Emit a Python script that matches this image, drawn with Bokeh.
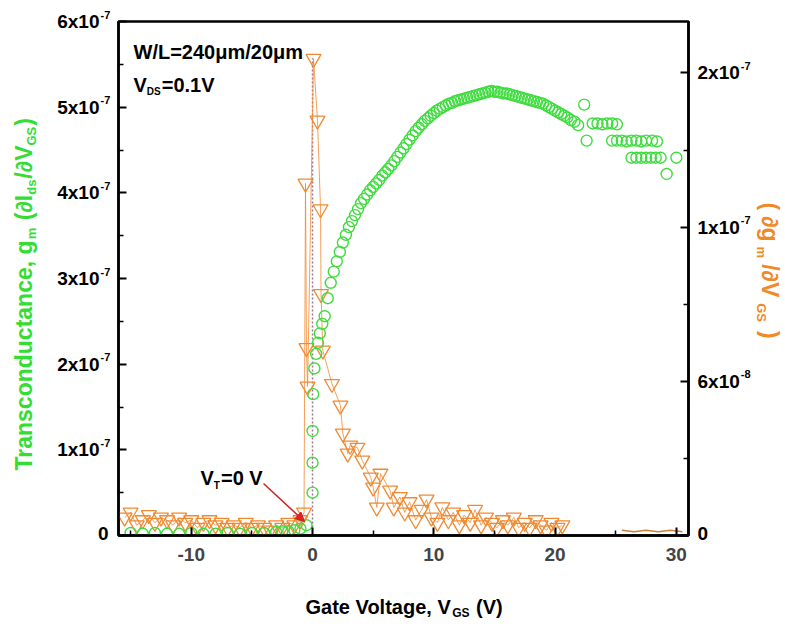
import math
from bokeh.plotting import figure
from bokeh.layouts import row, column
from bokeh.models import (Range1d, LinearAxis, FixedTicker, Label, Arrow,
                          NormalHead, CustomJSTickFormatter)
from bokeh.core.properties import value
from bokeh.embed import file_html
from bokeh.resources import INLINE

# ---------------- data ----------------
# transconductance g_m (units of 1e-7 S) vs gate voltage
gm_vgs = [-15.0, -14.0, -13.0, -12.0, -11.0, -10.0, -9.0, -8.0, -7.0, -6.0, -5.0, -4.0,
          -3.0, -2.5, -2.0, -1.5, -1.0, -0.5,
          0.0, 0.0, 0.0, 0.05, 0.15, 0.3, 0.45, 0.6, 0.8, 1.0, 1.25, 1.5, 1.75, 2.0,
          2.25, 2.5, 2.75, 3.0, 3.25, 3.5, 3.75, 4.0, 4.25, 4.5, 4.75, 5.0, 5.25, 5.5,
          5.75, 6.0, 6.25, 6.5, 6.75, 7.0, 7.25, 7.5, 7.75, 8.0, 8.25, 8.5, 8.75, 9.0,
          9.25, 9.5, 9.75, 10.0, 10.25, 10.5, 10.75, 11.0, 11.25, 11.5, 11.75, 12.0,
          12.25, 12.5, 12.75, 13.0, 13.25, 13.5, 13.75, 14.0, 14.25, 14.5, 14.75, 15.0,
          15.25, 15.5, 15.75, 16.0, 16.25, 16.5, 16.75, 17.0, 17.25, 17.5, 17.75, 18.0,
          18.25, 18.5, 18.75, 19.0, 19.25, 19.5, 19.75, 20.0, 20.25, 20.5, 20.75, 21.0,
          21.3, 21.6, 21.9,
          22.4, 22.6, 23.1, 23.5, 23.9, 24.3, 24.7, 25.1, 24.7, 25.1, 25.5, 25.9, 26.3,
          26.7, 27.1, 27.5, 28.0, 28.4, 26.3, 26.7, 27.1, 27.5, 27.9, 28.3, 28.7, 29.2,
          30.0]
gm_e7 = [0.03, 0.02, 0.03, 0.02, 0.02, 0.03, 0.02, 0.02, 0.03, 0.02, 0.03, 0.03,
         0.04, 0.05, 0.05, 0.06, 0.08, 0.12,
         0.5, 0.85, 1.22, 1.65, 1.95, 2.12, 2.25, 2.36, 2.47, 2.56, 2.77, 2.95, 3.08, 3.2,
         3.31, 3.42, 3.51, 3.6, 3.67, 3.74, 3.81, 3.88, 3.93, 3.98, 4.03, 4.07, 4.11, 4.15,
         4.2, 4.24, 4.28, 4.32, 4.37, 4.42, 4.47, 4.52, 4.57, 4.62, 4.67, 4.72, 4.76, 4.8,
         4.84, 4.87, 4.9, 4.93, 4.96, 4.98, 5.0, 5.02, 5.04, 5.05, 5.07, 5.08,
         5.09, 5.10, 5.11, 5.12, 5.13, 5.14, 5.15, 5.16, 5.17, 5.18, 5.19, 5.18,
         5.18, 5.17, 5.16, 5.16, 5.15, 5.14, 5.13, 5.12, 5.11, 5.10, 5.09, 5.08,
         5.07, 5.06, 5.05, 5.04, 5.02, 5.00, 4.98, 4.96, 4.94, 4.92, 4.90, 4.88,
         4.85, 4.83, 4.79,
         5.03, 4.61, 4.81, 4.81, 4.80, 4.81, 4.81, 4.80, 4.61, 4.61, 4.61, 4.60, 4.61,
         4.61, 4.60, 4.61, 4.61, 4.60, 4.41, 4.41, 4.41, 4.41, 4.41, 4.41, 4.41, 4.22,
         4.41]

# derivative d g_m / d V_GS (units of 1e-8) vs gate voltage
dgm_vgs = [-15.5, -15.0, -14.5, -14.0, -13.5, -13.0, -12.5, -12.0, -11.5, -11.0, -10.5,
           -10.0, -9.5, -9.0, -8.5, -8.0, -7.5, -7.0, -6.5, -6.0, -5.5, -5.0, -4.5, -4.0,
           -3.5, -3.0, -2.5, -2.0, -1.5, -1.0, -0.7, -0.58, -0.5, -0.41, 0.08, 0.41,
           0.66, 0.7, 0.85, 1.6, 2.3, 2.5, 2.9, 3.1, 3.7, 4.1, 4.8, 5.0, 5.3, 5.6, 6.4,
           6.7, 7.2, 7.6, 8.0, 8.5, 9.0, 9.4, 9.8, 10.3, 10.7, 11.2, 11.6, 12.1, 12.5,
           13.0, 13.4, 13.9, 14.3, 14.8, 15.2, 15.7, 16.1, 16.6, 17.0, 17.5, 17.9, 18.4,
           18.8, 19.3, 19.7, 20.2, 20.6]
dgm_e8 = [0.7, 0.9, 0.4, 0.6, 0.8, 0.5, 0.7, 0.6, 0.4, 0.7, 0.5,
          0.6, 0.3, 0.5, 0.6, 0.4, 0.5, 0.3, 0.4, 0.3, 0.5, 0.3, 0.4, 0.3,
          0.2, 0.4, 0.3, 0.5, 0.4, 0.6, 0.9, 13.7, 7.3, 5.8, 18.55, 16.15,
          12.7, 9.4, 7.2, 5.9, 5.06, 3.97, 3.19, 3.5, 3.42, 2.92, 2.26, 1.87, 1.09, 2.41, 1.75,
          1.09, 1.5, 0.9, 1.3, 0.6, 1.0, 1.4, 0.7, 0.5, 1.1, 0.6, 0.9, 0.4, 0.8,
          0.5, 1.0, 0.4, 0.7, 0.5, 0.3, 0.6, 0.4, 0.7, 0.3, 0.5, 0.3, 0.6,
          0.4, 0.2, 0.5, 0.3, 0.4]
tail_vgs = [25.5, 26.5, 27.5, 28.5, 29.5, 30.5]
tail_e8 = [0.2, 0.15, 0.2, 0.15, 0.2, 0.15]

# threshold marker line at V_T = 0
vt_vgs = [0.0, 0.0]
vt_e7 = [0.0, 5.57]

x_ticks = [-10, 0, 10, 20, 30]
x_minor = [-15, -5, 5, 15, 25]
left_ticks_e7 = [0, 1, 2, 3, 4, 5, 6]
left_minor_e7 = [0.5, 1.5, 2.5, 3.5, 4.5, 5.5]
left_labels = ["0", "1x10", "2x10", "3x10", "4x10", "5x10", "6x10"]
left_sup = ["", "-7", "-7", "-7", "-7", "-7", "-7"]
right_ticks_e8 = [0, 6, 12, 18]
right_minor_e8 = [3, 9, 15]
right_labels = ["0", "6x10", "1x10", "2x10"]
right_sup = ["", "-8", "-7", "-7"]

gm = [v * 1e-7 for v in gm_e7]
dgm = [v * 1e-8 for v in dgm_e8]
tail = [v * 1e-8 for v in tail_e8]
vt_y = [v * 1e-7 for v in vt_e7]

# ---------------- layout ----------------
W, H = 785, 627
FL, FR, FT, FB = 118, 688, 21, 535          # plot frame in page pixels
LW, RW, BH = 112, 91, 42                    # side panels (left, right, bottom)
MW, MH = W - LW - RW, H - BH                # main figure size
X0, X1 = -16.0, 31.0
Y1 = 6e-7
Y2 = 2e-7
FONT = "Liberation Sans"

GREEN = "#3fdc3f"
ORANGE = "#f08a32"
TITLE_GREEN = "#33dd33"
TITLE_ORANGE = "#f08a28"

p = figure(width=MW, height=MH, x_range=Range1d(X0, X1), y_range=Range1d(0, Y1),
           output_backend="svg", toolbar_location=None, frame_align=False,
           min_border_left=FL - LW, min_border_right=(LW + MW) - FR,
           min_border_top=FT, min_border_bottom=MH - FB)
p.extra_y_ranges = {"d": Range1d(0, Y2)}
p.grid.visible = False
p.background_fill_color = "white"
p.border_fill_color = "white"
p.outline_line_color = "black"
p.outline_line_width = 2.5

xa = p.xaxis[0]
xa.ticker = FixedTicker(ticks=x_ticks, minor_ticks=x_minor)
xa.major_label_overrides = {t: str(t) for t in x_ticks}
xa.major_label_text_font = FONT
xa.major_label_text_font_style = "bold"
xa.major_label_text_font_size = "19px"
xa.major_label_standoff = 12

ya = p.yaxis[0]
ya.ticker = FixedTicker(ticks=[v * 1e-7 for v in left_ticks_e7],
                        minor_ticks=[v * 1e-7 for v in left_minor_e7])
ya.formatter = CustomJSTickFormatter(code="return ''")
ya.major_label_standoff = 0

ra = LinearAxis(y_range_name="d",
                ticker=FixedTicker(ticks=[v * 1e-8 for v in right_ticks_e8],
                                   minor_ticks=[v * 1e-8 for v in right_minor_e8]),
                formatter=CustomJSTickFormatter(code="return ''"),
                major_label_standoff=0)
p.add_layout(ra, "right")

for ax in (xa, ya, ra):
    ax.axis_line_width = 2.5
    ax.axis_line_color = "black"
    ax.major_tick_line_width = 2
    ax.minor_tick_line_width = 1.5
    ax.major_tick_in = 8
    ax.major_tick_out = 0
    ax.minor_tick_in = 5
    ax.minor_tick_out = 0

# ---------------- glyphs ----------------
p.line(vt_vgs, vt_y, line_color="#a07890", line_width=1.5, line_dash="2 2")
p.line(dgm_vgs, dgm, y_range_name="d", line_color=ORANGE, line_width=1, line_alpha=0.8)
p.line(tail_vgs, tail, y_range_name="d", line_color="#c8803a", line_width=1.5)
p.scatter(dgm_vgs, dgm, y_range_name="d", marker="inverted_triangle", size=15,
          line_color=ORANGE, fill_color=None, line_width=1.3)
p.scatter(gm_vgs, gm, marker="circle", size=11, line_color=GREEN, fill_color=None,
          line_width=1.4)


# ---------------- text helpers ----------------
CW = {' ': 278, '(': 333, ')': 333, ',': 278, '.': 278, '/': 278, '=': 584, 'x': 556,
      '-': 333, 'G': 778, 'I': 278, 'L': 611, 'S': 667, 'T': 611, 'V': 667, 'W': 944,
      'D': 722, 'a': 556, 'c': 556, 'd': 611, 'e': 556, 'g': 611, 'l': 278, 'm': 889,
      'n': 611, 'o': 611, 'r': 389, 's': 556, 't': 333, 'u': 611, 'μ': 611, '∂': 494}


def tw(s, size):
    return sum(CW.get(c, 556) for c in s) * size / 1000.0


def X(sx):
    return X0 + (sx - FL) * (X1 - X0) / (FR - FL)


def Y(sy):
    return Y1 * (FB - sy) / (FB - FT)


def panel(w, h):
    f = figure(width=w, height=h, x_range=Range1d(0, w), y_range=Range1d(0, h),
               output_backend="svg", toolbar_location=None, min_border=0,
               frame_align=False, x_axis_type=None, y_axis_type=None)
    f.outline_line_color = None
    f.background_fill_color = "white"
    f.border_fill_color = "white"
    return f


class Canvas:
    """places text on a figure whose frame covers it, using page pixel positions"""

    def __init__(self, fig, ox, oy, h, inside=False):
        self.fig, self.ox, self.oy, self.h, self.inside = fig, ox, oy, h, inside

    def put(self, sx, sy, text, size, color="black", align="left", angle=0.0):
        if self.inside:
            self.fig.add_layout(Label(x=X(sx), y=Y(sy), text=text, text_font=FONT,
                                      text_font_style="bold", text_font_size=f"{size}px",
                                      text_color=color, text_align=align,
                                      text_baseline="middle", angle=angle))
        else:
            self.fig.text(x=[sx - self.ox], y=[self.h - (sy - self.oy)], text=[text],
                          angle=angle, text_font=value(FONT), text_font_style="bold",
                          text_font_size=value(f"{size}px"), text_color=color,
                          text_align=align, text_baseline="middle")

    def rich(self, sx, sy, pieces, size, sub_size, sub_off, color="black", angle=0.0):
        """pieces: ('t', text) normal, ('s', text) subscript, ('g', px) gap"""
        dx, dy = math.cos(angle), -math.sin(angle)
        nx, ny = -dy, dx
        cx, cy = sx, sy
        for kind, item in pieces:
            if kind == "g":
                w = item
            else:
                fs = sub_size if kind == "s" else size
                lead = len(item) - len(item.lstrip(" "))
                txt = item.strip(" ")
                lw = tw(" " * lead, fs)
                off = sub_off if kind == "s" else 0
                self.put(cx + dx * lw + nx * off, cy + dy * lw + ny * off, txt, fs,
                         color, "left", angle)
                w = tw(item, fs) + (1 if kind == "s" else 0)
            cx += dx * w
            cy += dy * w


left = panel(LW, MH)
right = panel(RW, MH)
bottom = panel(W, BH)
cl = Canvas(left, 0, 0, MH)
cr = Canvas(right, LW + MW, 0, MH)
cb = Canvas(bottom, 0, MH, BH)
cm = Canvas(p, LW, 0, MH, inside=True)

# tick labels with superscript exponents
for v, t, s in zip(left_ticks_e7, left_labels, left_sup):
    sy = FB - v * (FB - FT) / 6.0
    if s:
        cl.put(99, sy, t, 19, align="right")
        cl.put(100, sy - 7, s, 11)
    else:
        cl.put(108, sy - 2, t, 19, align="right")

for v, t, s in zip(right_ticks_e8, right_labels, right_sup):
    sy = FB - v * (FB - FT) / 20.0
    if s:
        cr.put(697, sy, t, 19)
        cr.put(697 + tw(t, 19) + 1, sy - 7, s, 11)
    else:
        cr.put(697, sy - 2, t, 19)

# axis titles
x_title = [("t", "Gate Voltage, V"), ("s", "GS"), ("t", " (V)")]
cb.rich(305, 606, x_title, 20, 12, 6)

y_title = [("t", "Transconductance, g"), ("s", "m"), ("t", " (∂I"), ("s", "ds"),
           ("t", "/∂V"), ("s", "GS"), ("t", ")")]
cl.rich(23, 470, y_title, 23, 13, 8, color=TITLE_GREEN, angle=math.pi / 2)

y2_title = [("t", "("), ("g", 6), ("t", "∂g"), ("g", 5), ("s", "m"), ("g", 5),
            ("t", "/∂V"), ("g", 6), ("s", "GS"), ("g", 8), ("t", ")")]
cr.rich(769, 202, y2_title, 23, 13, 8, color=TITLE_ORANGE, angle=-math.pi / 2)

# annotations inside the frame
cm.put(133, 51, "W/L=240μm/20μm", 20)
cm.rich(133, 84, [("t", "V"), ("s", "DS"), ("t", "=0.1V")], 20, 10, 7)
cm.rich(200, 477, [("t", "V"), ("s", "T"), ("t", "=0 V")], 20, 10, 8)

p.add_layout(Arrow(x_start=X(263), y_start=Y(483), x_end=X(304), y_end=Y(521),
                   line_color="#cc2222", line_width=1.5,
                   end=NormalHead(size=9, fill_color="#dd2222", line_color="#cc2222")))

layout = column(row(left, p, right, spacing=0), bottom, spacing=0)
open("out.html", "w").write(file_html(layout, INLINE))
